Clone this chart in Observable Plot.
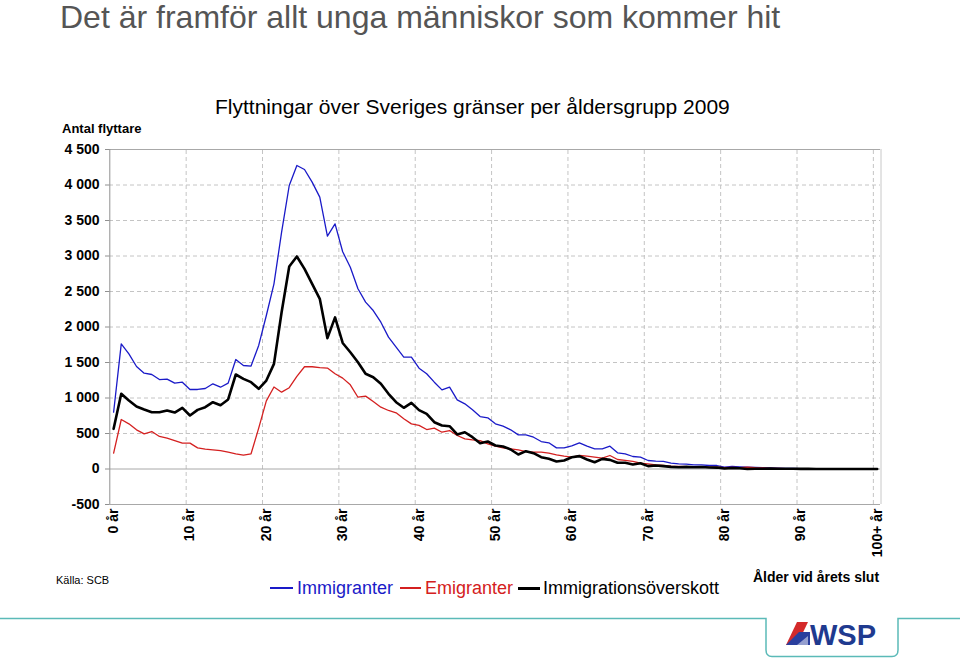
<!DOCTYPE html>
<html><head><meta charset="utf-8">
<script src="https://cdn.jsdelivr.net/npm/d3@7"></script>
<script src="https://cdn.jsdelivr.net/npm/@observablehq/plot@0.6"></script>
<style>
body{margin:0;background:#fff;font-family:"Liberation Sans",Arial,sans-serif;}
#wrap{position:relative;width:960px;height:659px;overflow:hidden;background:#fff;}
.abs{position:absolute;white-space:nowrap;line-height:1;}
#chart{position:absolute;left:0;top:0;}
</style></head><body>
<div id="wrap">
  <div class="abs" style="left:60px;top:1px;font-size:32px;color:#555;">Det är framför allt unga människor som kommer hit</div>
  <div class="abs" style="left:215px;top:96px;font-size:21px;color:#000;">Flyttningar över Sveriges gränser per åldersgrupp 2009</div>
  <div class="abs" style="left:62px;top:122px;font-size:13px;font-weight:bold;color:#000;">Antal flyttare</div>
  <div id="chart"></div>
  <div class="abs" style="left:56px;top:575px;font-size:11px;color:#000;">Källa: SCB</div>
  <div class="abs" style="left:753px;top:570px;font-size:14px;font-weight:bold;color:#000;">Ålder vid årets slut</div>
  <div id="legend"></div>
  <svg class="abs" style="left:0;top:0;" width="960" height="659">
    <path d="M0,618.5 H766 V650 Q766,656.5 772,656.5 H892 Q898,656.5 898,650 V618.5 H960" fill="none" stroke="#5bbab8" stroke-width="1.5"/>
    <polygon points="786,645 797,622 808,622 797,645" fill="#d42a2a"/>
    <polygon points="786,645 799,632 810,632 810,645" fill="#2a3f9e"/>
    <polygon points="797,645 808,636 808,645" fill="#ffffff" opacity="0.5"/>
    <text x="810" y="645" font-family="Liberation Sans, Arial, sans-serif" font-weight="bold" font-size="29" fill="#1f3a8f">WSP</text>
  </svg>
</div>
<script>
const ages = d3.range(0, 101);
const immigranter = [800,1763,1622,1444,1350,1331,1260,1265,1209,1223,
  1120,1120,1134,1200,1152,1209,1542,1458,1450,1740,
  2162,2608,3335,3993,4275,4218,4040,3829,3279,3453,
  3060,2842,2538,2350,2232,2068,1857,1716,1575,1575,
  1420,1341,1223,1115,1152,974,918,833,739,721,
  636,603,552,481,481,448,387,369,298,298,
  325,369,321,284,284,321,228,214,176,166,
  120,110,106,82,73,70,59,59,49,49,
  26,35,30,25,22,18,15,12,10,8,
  6,5,4,3,2,2,1,1,1,0,1];
const emigranter = [223,697,636,552,495,528,458,434,401,364,
  364,298,279,270,260,237,214,195,214,575,
  960,1155,1082,1145,1305,1440,1440,1428,1422,1341,
  1280,1186,1011,1026,951,871,824,791,707,636,
  615,556,575,518,542,472,425,411,401,355,
  321,298,284,270,246,237,237,223,200,181,
  166,190,181,166,153,190,134,120,106,82,
  73,59,49,40,35,32,30,28,25,25,
  20,22,20,25,18,15,10,8,6,5,
  4,3,3,2,2,1,1,1,0,0,0];
const overskott = [566,1059,965,880,838,800,800,824,795,862,
  754,833,871,941,899,979,1331,1270,1223,1129,
  1246,1481,2208,2852,2993,2819,2608,2397,1843,2135,
  1775,1645,1504,1341,1293,1200,1059,941,862,932,
  830,777,659,613,603,486,518,448,364,387,
  331,317,275,204,251,223,166,143,106,120,
  165,181,134,96,143,129,87,87,63,82,
  40,49,40,30,25,30,25,28,22,20,
  6,13,10,0,4,3,5,4,4,3,
  2,2,1,1,0,1,0,0,1,0,1];
const seriesNames = ["Immigranter", "Emigranter", "Immigrationsöverskott"];
const seriesColors = ["#1a1ac8", "#d42020", "#000000"];
const yTicks = d3.range(-500, 4501, 500);
const xTicks = d3.range(0, 101, 10);
const xTickLabels = xTicks.map(d => d === 100 ? "100+ år" : d + " år");

const fmt = d => (d < 0 ? "-" : "") + String(Math.abs(d)).replace(/\B(?=(\d{3})+(?!\d))/g, " ");
const toRows = vals => ages.map((a, i) => ({age: a, value: vals[i]}));
const gridY = yTicks.filter(v => v > 0 && v < 4500);
const gridX = xTicks.slice(1).map(v => v - 0.5);

const chart = Plot.plot({
  width: 960, height: 568,
  marginLeft: 109, marginRight: 80, marginTop: 149, marginBottom: 64,
  style: {fontFamily: "Liberation Sans, Arial, sans-serif", color: "#000", background: "transparent"},
  x: {domain: [-0.5, 100.5], range: [109.3, 880.5]},
  y: {domain: [-500, 4500], range: [504, 149]},
  marks: [
    Plot.ruleY(gridY, {stroke: "#c4c4c4", strokeDasharray: "4,3", strokeOpacity: 1}),
    Plot.ruleX(gridX, {stroke: "#c4c4c4", strokeDasharray: "4,3", strokeOpacity: 1, y1: -500, y2: 4500}),
    Plot.ruleY([0], {stroke: "#a8a8a8"}),
    Plot.ruleY([4500], {stroke: "#a8a8a8"}),
    Plot.ruleY([-500], {stroke: "#a8a8a8"}),
    Plot.ruleX([100.5], {stroke: "#c8c8c8", y1: -500, y2: 4500}),
    Plot.ruleX([-0.5], {stroke: "#909090", y1: -500, y2: 4500}),
    Plot.axisY({ticks: yTicks, tickFormat: fmt, tickSize: 4, tickPadding: 6, fontWeight: "bold", fontSize: 14, stroke: "#909090", label: null}),
    Plot.axisX({ticks: xTicks, tickFormat: (d, i) => xTickLabels[i], tickRotate: -90, tickSize: 0, tickPadding: 4, fontWeight: "bold", fontSize: 14, label: null}),
    Plot.line(toRows(immigranter), {x: "age", y: "value", stroke: seriesColors[0], strokeWidth: 1.3}),
    Plot.line(toRows(emigranter), {x: "age", y: "value", stroke: seriesColors[1], strokeWidth: 1.3}),
    Plot.line(toRows(overskott), {x: "age", y: "value", stroke: seriesColors[2], strokeWidth: 2.6})
  ]
});
document.getElementById("chart").appendChild(chart);

// legend
const legend = document.getElementById("legend");
const legendPos = [{line: [270, 293], text: 297, w: 1.3}, {line: [400, 421], text: 425, w: 1.3}, {line: [518, 540], text: 543, w: 3}];
seriesNames.forEach((name, i) => {
  const p = legendPos[i];
  const ln = document.createElement("div");
  ln.className = "abs";
  ln.style.cssText = `left:${p.line[0]}px;top:${588 - p.w / 2}px;width:${p.line[1] - p.line[0]}px;height:${p.w}px;background:${seriesColors[i]};`;
  legend.appendChild(ln);
  const tx = document.createElement("div");
  tx.className = "abs";
  tx.style.cssText = `left:${p.text}px;top:579px;font-size:18px;color:${seriesColors[i]};`;
  tx.textContent = name;
  legend.appendChild(tx);
});
</script>
</body></html>
